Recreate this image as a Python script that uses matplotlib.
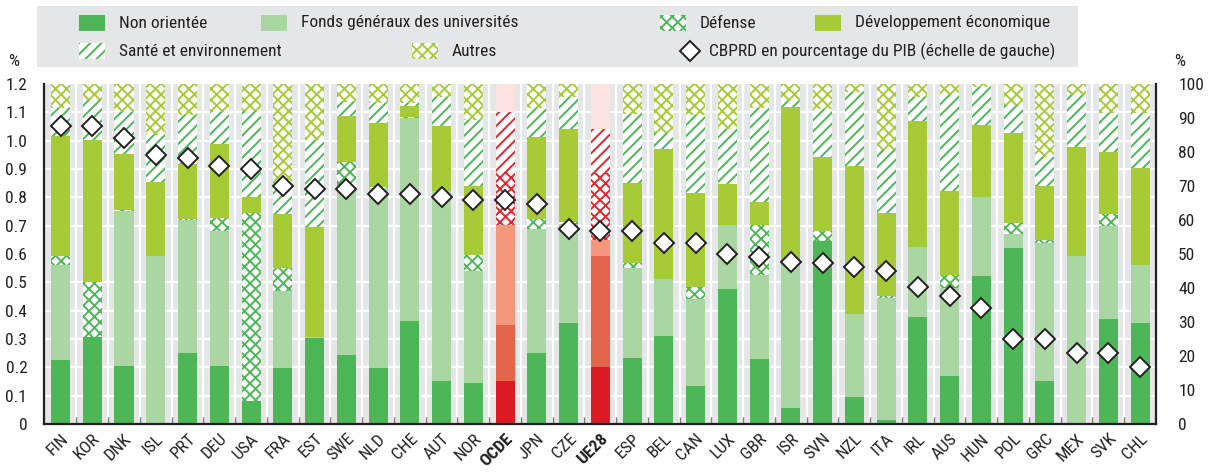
import numpy as np
import matplotlib
matplotlib.use("Agg")
import matplotlib.pyplot as plt
from matplotlib import font_manager
from matplotlib.patches import Rectangle

_avail = {f.name for f in font_manager.fontManager.ttflist}
_prefs = [("Liberation Sans Narrow", 12), ("Roboto Condensed", 12),
          ("Open Sans Condensed", 12), ("DejaVu Sans Condensed", 10)]
FONT, FS = "DejaVu Sans", 9.5
for name, size in _prefs:
    if name in _avail:
        FONT, FS = name, size
        break
plt.rcParams['font.family'] = [FONT, 'DejaVu Sans']
plt.rcParams['hatch.linewidth'] = 1.4

countries = ["FIN", "KOR", "DNK", "ISL", "PRT", "DEU", "USA", "FRA", "EST", "SWE", "NLD", "CHE",
             "AUT", "NOR", "OCDE", "JPN", "CZE", "UE28", "ESP", "BEL", "CAN", "LUX", "GBR", "ISR",
             "SVN", "NZL", "ITA", "IRL", "AUS", "HUN", "POL", "GRC", "MEX", "SVK", "CHL"]

non_orientee = [18.8, 25.7, 17.1, 0.0, 20.8, 17.1, 6.9, 16.6, 25.2, 20.3, 16.6, 30.4,
                12.6, 12.2, 12.6, 21.0, 29.8, 16.9, 19.4, 25.9, 11.2, 39.7, 19.1, 4.7,
                53.8, 8.0, 1.2, 31.6, 14.1, 43.5, 51.8, 12.6, 0.0, 30.9, 29.6]
fonds_generaux = [28.0, 0.0, 45.6, 49.4, 39.2, 39.6, 0.0, 22.5, 0.5, 48.5, 52.7, 59.5,
                  56.0, 32.8, 16.5, 36.5, 29.0, 32.5, 26.6, 16.7, 25.7, 18.8, 24.7, 42.1,
                  0.0, 24.5, 35.8, 20.6, 25.8, 23.2, 4.1, 40.7, 49.4, 27.3, 17.1]
defense = [2.6, 16.2, 0.3, 0.0, 0.3, 3.9, 55.1, 6.9, 0.0, 8.2, 0.3, 0.3,
           0.0, 4.7, 29.4, 2.8, 0.5, 4.7, 1.3, 0.0, 3.4, 0.0, 14.7, 0.0,
           3.1, 0.0, 0.6, 0.0, 3.9, 0.2, 3.1, 0.8, 0.0, 3.6, 0.0]
dev_economique = [35.3, 41.6, 16.4, 21.8, 16.1, 21.8, 4.8, 15.8, 32.3, 13.6, 18.8, 3.3,
                  19.0, 20.3, 15.7, 24.2, 27.5, 19.8, 23.5, 38.3, 27.5, 12.1, 6.9, 46.5,
                  21.7, 43.5, 24.4, 36.9, 24.7, 21.0, 26.5, 15.9, 32.0, 18.2, 28.6]
sante_env = [8.1, 11.8, 12.5, 13.8, 14.5, 9.5, 25.3, 9.5, 25.5, 4.0, 5.9, 0.8,
             8.7, 19.4, 17.7, 8.3, 9.5, 12.9, 20.4, 4.8, 23.1, 16.2, 27.6, 1.8,
             14.0, 21.7, 18.6, 7.0, 28.3, 11.1, 8.3, 8.4, 15.4, 11.4, 16.1]
autres = [7.2, 4.7, 8.1, 15.0, 9.1, 8.1, 7.9, 28.7, 16.5, 5.4, 5.7, 5.7,
          3.7, 10.6, 8.1, 7.2, 3.7, 13.2, 8.8, 14.3, 9.1, 13.2, 7.0, 4.9,
          7.4, 2.3, 19.4, 3.9, 3.2, 1.0, 6.2, 21.6, 3.2, 8.6, 8.6]
cbprd_pib = [1.05, 1.05, 1.01, 0.95, 0.94, 0.91, 0.90, 0.84, 0.83, 0.83, 0.81, 0.81,
             0.80, 0.79, 0.79, 0.775, 0.69, 0.68, 0.68, 0.64, 0.64, 0.60, 0.59, 0.572,
             0.567, 0.555, 0.54, 0.485, 0.452, 0.41, 0.30, 0.30, 0.252, 0.249, 0.20]

series_labels = ["Non orientée", "Fonds généraux des universités", "Défense",
                 "Développement économique", "Santé et environnement", "Autres"]
aggregates = ["OCDE", "UE28"]

# styles (facecolor, hatch colour, hatch)
GREEN_STYLES = [("#4db757", None, None),
                ("#aad6a3", None, None),
                ("white", "#4db757", "xxx"),
                ("#a6cb37", None, None),
                ("white", "#4db757", "///"),
                ("white", "#a6cb37", "xxx")]
RED_STYLES = [("#dc1b24", None, None),
              ("#e3654c", None, None),
              ("#f4977a", None, None),
              ("white", "#e3262f", "xxx"),
              ("white", "#e3262f", "///"),
              ("#fde3df", None, None)]
TXT = "#231f20"

W, H = 1208, 476
fig = plt.figure(figsize=(W / 100, H / 100), dpi=100)
L, R, T, B = 44, 1156, 84, 424
ax = fig.add_axes([L / W, 1 - B / H, (R - L) / W, (B - T) / H])
ax.set_facecolor("#e5e6e7")
ax2 = ax.twinx()

series = [non_orientee, fonds_generaux, defense, dev_economique, sante_env, autres]
x = np.arange(len(countries))
bottom = np.zeros(len(countries))
for k, vals in enumerate(series):
    vals = np.array(vals)
    for i, c in enumerate(countries):
        fc, hc, hatch = (RED_STYLES if c in aggregates else GREEN_STYLES)[k]
        if vals[i] <= 0:
            continue
        ax.bar(x[i], vals[i], bottom=bottom[i], width=0.6, color=fc,
               edgecolor=hc if hc else fc, hatch=hatch, linewidth=0, zorder=2)
    bottom += vals

ax.set_xlim(-0.52, len(countries) - 0.5)
ax.set_ylim(0, 100)
ax.set_xticks(x)
ax.set_xticklabels(countries, rotation=45, ha="right", rotation_mode="anchor", fontsize=FS + 0.5,
                   color=TXT)
for lab in ax.get_xticklabels():
    if lab.get_text() in aggregates:
        lab.set_fontweight("bold")
ax.tick_params(axis="x", which="major", length=0, pad=5)
ax.set_xticks(np.arange(0.5, len(countries) - 0.5, 1), minor=True)
ax.tick_params(axis="x", which="minor", direction="in", length=5, color="#777777", width=1)

ax.yaxis.tick_right()
ax.yaxis.set_label_position("right")
ax.set_yticks(np.arange(0, 101, 10))
ax.set_yticklabels([str(v) for v in range(0, 101, 10)], fontsize=FS + 0.5, color=TXT)
ax.set_yticks(np.arange(0, 100.01, 100 / 12), minor=True)
ax.tick_params(axis="y", which="both", length=0, pad=16, left=False, labelleft=False,
               right=False, labelright=True)
ax.grid(True, which="minor", color="white", linewidth=1.6)
ax.grid(False, which="major")
ax.set_axisbelow(True)

ax.spines["top"].set_visible(False)
for s in ["left", "bottom", "right"]:
    ax.spines[s].set_color(TXT)
    ax.spines[s].set_linewidth(1.6)

ax2.yaxis.tick_left()
ax2.yaxis.set_label_position("left")
ax2.set_ylim(0, 1.2)
ax2.set_yticks(np.arange(0, 1.21, 0.1))
ax2.set_yticklabels(["0"] + ["%.1f" % v for v in np.arange(0.1, 1.21, 0.1)], fontsize=FS + 0.5,
                    color=TXT)
ax2.tick_params(axis="y", length=0, pad=12, left=False, labelleft=True, right=False,
                labelright=False)
for s in ax2.spines.values():
    s.set_visible(False)
ax2.plot(x, cbprd_pib, linestyle="none", marker="D", markersize=10.5,
         markerfacecolor="white", markeredgecolor=TXT, markeredgewidth=1.4, zorder=5)

# % labels
fig.text(14 / W, 1 - 62 / H, "%", fontsize=FS + 0.5, ha="center", va="center", color=TXT)
fig.text(1180 / W, 1 - 62 / H, "%", fontsize=FS + 0.5, ha="center", va="center", color=TXT)

# legend overlay in pixel coordinates
lg = fig.add_axes([0, 0, 1, 1], zorder=-1)
lg.set_xlim(0, W)
lg.set_ylim(H, 0)
lg.axis("off")
lg.add_patch(Rectangle((37, 6), 1041, 61, facecolor="#e5e6e7", edgecolor="none"))

entries = [(0, 79, 23), (1, 261, 23), (2, 660, 23), (3, 815, 23),
           (4, 79, 51), (5, 412, 51)]
for k, px, py in entries:
    fc, hc, hatch = GREEN_STYLES[k]
    lg.add_patch(Rectangle((px, py - 8), 26, 16, facecolor=fc,
                           edgecolor=hc if hc else fc, hatch=hatch, linewidth=0))
    lg.text(px + 40, py, series_labels[k], fontsize=FS + 0.5, va="center", ha="left", color=TXT)
lg.plot([690], [51], linestyle="none", marker="D", markersize=10.5, markerfacecolor="white",
        markeredgecolor=TXT, markeredgewidth=1.4)
lg.text(709, 51, "CBPRD en pourcentage du PIB (échelle de gauche)", fontsize=FS + 0.5,
        va="center", ha="left", color=TXT)

fig.savefig("out.png", dpi=100)
